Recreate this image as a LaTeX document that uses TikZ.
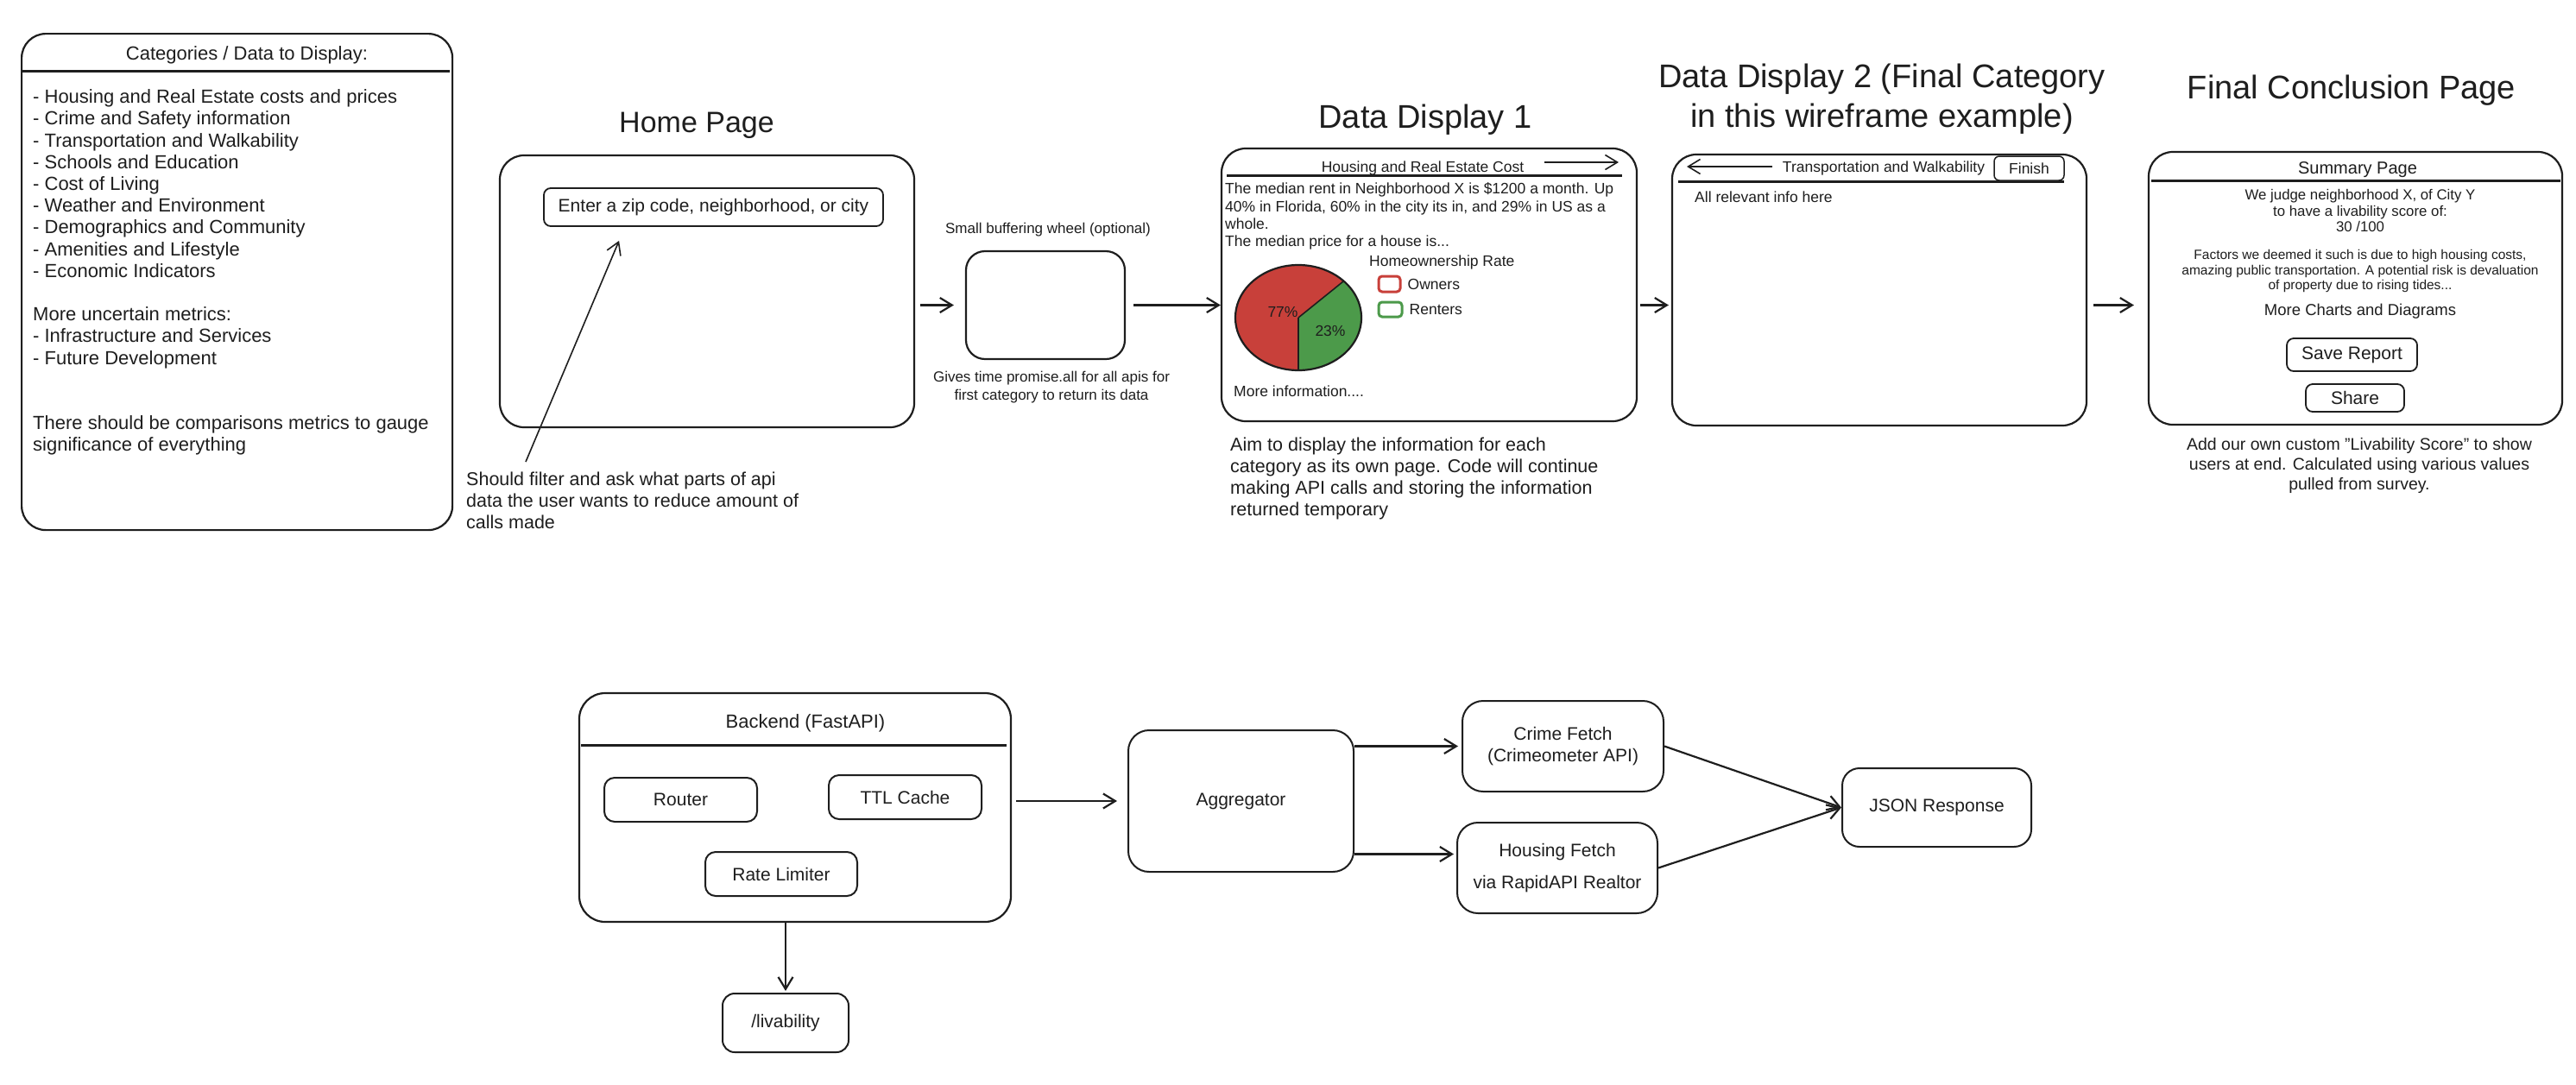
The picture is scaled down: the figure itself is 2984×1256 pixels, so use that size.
\documentclass[tikz,border=0pt]{standalone}
\usepackage{fontspec}
\setmainfont{Liberation Sans}
\usepackage{tikz}
\usetikzlibrary{arrows.meta, positioning}
\definecolor{ink}{HTML}{1E1E1E}
\definecolor{ownred}{HTML}{C8403A}
\definecolor{rentgreen}{HTML}{4C9A4A}

\begin{document}
\begin{tikzpicture}[
  x=1pt, y=-1pt,
  >={Straight Barb[length=14pt, width=17pt]},
  every node/.style={text=ink},
  page/.style={draw=ink, line width=2.2pt, rounded corners=28pt, inner sep=0pt},
  field/.style={draw=ink, line width=1.8pt, rounded corners=8pt, inner sep=0pt},
  svc/.style={draw=ink, line width=2pt, rounded corners=16pt, inner sep=0pt,
    align=center, font=\fontsize{21}{25}\selectfont},
  hdrline/.style={draw=ink, line width=3pt},
  link/.style={draw=ink, line width=2.2pt, ->},
  heading/.style={inner sep=0pt, anchor=base, align=center, font=\fontsize{38}{46}\selectfont},
  para/.style={inner sep=0pt, anchor=north west, align=left},
  smalltxt/.style={font=\fontsize{17.5}{20.4}\selectfont},
]
\path[use as bounding box, fill=white] (0,0) rectangle (2984,1256);

% --- Categories panel ---
\node[page, minimum width=499pt, minimum height=575pt, anchor=north west] (CATS) at (24,38) {};
\node[anchor=base, inner sep=0pt, font=\fontsize{22}{26}\selectfont] (CATShead) at (286,69) {Categories / Data to Display:};
\draw[hdrline] (26,82) -- (521,82);
\node[para, font=\fontsize{22}{25.2}\selectfont] (CATSlist) at (38,103.5) {- Housing and Real Estate costs and prices\\
  - Crime and Safety information\\
  - Transportation and Walkability\\
  - Schools and Education\\
  - Cost of Living\\
  - Weather and Environment\\
  - Demographics and Community\\
  - Amenities and Lifestyle\\
  - Economic Indicators\\[25.2pt]
  More uncertain metrics:\\
  - Infrastructure and Services\\
  - Future Development\\[50.4pt]
  There should be comparisons metrics to gauge\\
  significance of everything};

% --- Home page ---
\node[heading, font=\fontsize{34}{40}\selectfont] (HOMEtitle) at (807,153) {Home Page};
\node[page, minimum width=480pt, minimum height=315pt] (HOME) at (819,337.5) {};
\node[field, minimum width=393pt, minimum height=44pt, font=\fontsize{21}{25}\selectfont] (INPUT) at (826.5,240) {Enter a zip code, neighborhood, or city};
\node[para, font=\fontsize{21.5}{25}\selectfont] (FILTER) at (540,547) {Should filter and ask what parts of api\\ data the user wants to reduce amount of\\ calls made};
\coordinate (FILTERtail) at (609,535);
\draw[link, line width=1.6pt] (FILTERtail) -- ([xshift=88pt, yshift=-16pt]INPUT.south west);

% --- Buffering wheel ---
\node[page, rounded corners=22pt, minimum width=184pt, minimum height=125pt] (BUF) at (1211,353.5) {};
\node[anchor=base, inner sep=0pt, font=\fontsize{17}{21}\selectfont] (BUFlabel) at (1214,270) {Small buffering wheel (optional)};
\node[inner sep=0pt, anchor=north, align=center, font=\fontsize{17}{21}\selectfont] (BUFnote) at (1218,430) {Gives time promise.all for all apis for\\ first category to return its data};

% --- Data display 1 ---
\node[heading] (DD1title) at (1651,148) {Data Display 1};
\node[page, minimum width=481pt, minimum height=316pt] (DD1) at (1655.5,330) {};
\node[anchor=base, inner sep=0pt, smalltxt] (DD1head) at (1648,199) {Housing and Real Estate Cost};
\coordinate (NEXTa) at (1789,188);
\coordinate (NEXTb) at (1875,188);
\draw[ink, line width=1.6pt, ->] (NEXTa) -- (NEXTb);
\draw[hdrline] (1421,203) -- (1879,203);
\node[para, smalltxt] (DD1body) at (1419,211.5) {The median rent in Neighborhood X is \$1200 a month. Up\\ 40\% in Florida, 60\% in the city its in, and 29\% in US as a\\ whole.\\ The median price for a house is...};
\node[anchor=base west, inner sep=0pt, smalltxt] (RATE) at (1586,308) {Homeownership Rate};
\node[draw=ownred, line width=3pt, rounded corners=4pt, minimum width=25pt, minimum height=18pt, inner sep=0pt] (KEYown) at (1609.5,329) {};
\node[right=7pt of KEYown, inner sep=0pt, smalltxt] (OWN) {Owners};
\node[draw=rentgreen, line width=3pt, rounded corners=4pt, minimum width=27pt, minimum height=17pt, inner sep=0pt] (KEYrent) at (1610.5,358.5) {};
\node[right=7pt of KEYrent, inner sep=0pt, smalltxt] (RENT) {Renters};

% pie chart
\coordinate (PIE) at (1504,368);
\fill[ownred] (PIE) -- ++(44:73pt and 61pt) arc[start angle=44, end angle=270, x radius=73pt, y radius=61pt] -- cycle;
\fill[rentgreen] (PIE) -- ++(-90:73pt and 61pt) arc[start angle=-90, end angle=44, x radius=73pt, y radius=61pt] -- cycle;
\draw[ink, line width=2.2pt] (PIE) ellipse[x radius=73pt, y radius=61pt];
\draw[ink, line width=1.6pt] (PIE) -- ++(44:73pt and 61pt) (PIE) -- ++(-90:73pt and 61pt);
\node[inner sep=0pt, smalltxt] (PCTown) at (1486,361) {77\%};
\node[inner sep=0pt, smalltxt] (PCTrent) at (1541,383) {23\%};
\node[anchor=base west, inner sep=0pt, smalltxt] (MORE) at (1429,459) {More information....};
\node[para, font=\fontsize{21.5}{25}\selectfont] (DD1note) at (1425,507) {Aim to display the information for each\\ category as its own page. Code will continue\\ making API calls and storing the information\\ returned temporary};

% --- Data display 2 ---
\node[heading, anchor=north] (DD2title) at (2180,74) {Data Display 2 (Final Category\\ in this wireframe example)};
\node[page, minimum width=480pt, minimum height=314pt] (DD2) at (2177,336) {};
\coordinate (BACKa) at (2053,193);
\coordinate (BACKb) at (1954,193);
\draw[ink, line width=1.6pt, ->] (BACKa) -- (BACKb);
\node[anchor=base, inner sep=0pt, smalltxt] (DD2head) at (2182,199.5) {Transportation and Walkability};
\node[field, line width=1.5pt, rounded corners=6pt, minimum width=81pt, minimum height=28pt, smalltxt] (FINISH) at (2350.5,195) {Finish};
\draw[hdrline] (1944,210) -- (2391,210);
\node[anchor=base west, inner sep=0pt, smalltxt] (DD2body) at (1963,234.5) {All relevant info here};

% --- Final conclusion page ---
\node[heading] (FINtitle) at (2724,114) {Final Conclusion Page};
\node[page, minimum width=479pt, minimum height=316pt] (FIN) at (2728.5,334) {};
\node[anchor=base, inner sep=0pt, font=\fontsize{20}{23}\selectfont] (FINhead) at (2731,201) {Summary Page};
\draw[hdrline] (2492,209) -- (2966,209);
\node[inner sep=0pt, anchor=north, align=center, font=\fontsize{16.8}{18.5}\selectfont] (SCORE) at (2734,219.5) {We judge neighborhood X, of City Y\\ to have a livability score of:\\ 30 /100};
\node[inner sep=0pt, anchor=north, align=center, font=\fontsize{15.5}{17.5}\selectfont] (FACTORS) at (2734,289.5) {Factors we deemed it such is due to high housing costs,\\ amazing public transportation. A potential risk is devaluation\\ of property due to rising tides...};
\node[anchor=base, inner sep=0pt, font=\fontsize{18.5}{22}\selectfont] (CHARTS) at (2734,365.5) {More Charts and Diagrams};
\node[field, minimum width=151pt, minimum height=38pt, font=\fontsize{21}{25}\selectfont] (SAVE) at (2724.5,411) {Save Report};
\node[field, minimum width=114pt, minimum height=32pt, font=\fontsize{21}{25}\selectfont] (SHARE) at (2728,461) {Share};
\node[inner sep=0pt, anchor=north, align=center, font=\fontsize{19.5}{23}\selectfont] (FINnote) at (2733,507.6) {Add our own custom "Livability Score" to show\\ users at end. Calculated using various values\\ pulled from survey.};

% --- Page flow arrows ---
\draw[link, shorten <=6pt, shorten >=13pt] (HOME.east |- BUF.west) -- (BUF.west);
\draw[link, shorten <=9pt] (BUF.east) -- (BUF.east -| DD1.west);
\draw[link, shorten <=3pt, shorten >=3pt] (DD1.east |- BUF.east) -- (DD2.west |- BUF.east);
\draw[link, shorten <=7pt, shorten >=16pt] (DD2.east |- BUF.east) -- (FIN.west |- BUF.east);

% --- Backend ---
\node[page, rounded corners=30pt, minimum width=500pt, minimum height=265pt] (BACK) at (921,935.5) {};
\node[anchor=base, inner sep=0pt, font=\fontsize{22}{26}\selectfont] (BACKhead) at (933,843) {Backend (FastAPI)};
\draw[hdrline] (673,863) -- (1166,863);
\node[svc, rounded corners=12pt, minimum width=177pt, minimum height=51pt] (ROUTER) at (788.5,926.5) {Router};
\node[svc, rounded corners=12pt, minimum width=177pt, minimum height=51pt] (CACHE) at (1048.5,923.5) {TTL Cache};
\node[svc, rounded corners=12pt, minimum width=176pt, minimum height=51pt] (LIMIT) at (905,1012.5) {Rate Limiter};
\node[svc, rounded corners=14pt, minimum width=146pt, minimum height=68pt] (LIV) at (910,1185) {/livability};
\node[svc, rounded corners=24pt, minimum width=261pt, minimum height=164pt] (AGG) at (1437.5,928) {Aggregator};
\node[svc, rounded corners=24pt, minimum width=233pt, minimum height=105pt] (CRIME) at (1810.5,864.5) {Crime Fetch\\ (Crimeometer API)};
\node[svc, rounded corners=24pt, minimum width=232pt, minimum height=105pt] (HOUSE) at (1804,1005.5) {Housing Fetch\\[12pt] via RapidAPI Realtor};
\node[svc, rounded corners=20pt, minimum width=219pt, minimum height=91pt] (JSON) at (2243.5,935.5) {JSON Response};
\coordinate (HOUSEin) at ([yshift=16pt]HOUSE.west);

% --- Backend arrows ---
\draw[link, shorten >=2pt] (LIV.north |- BACK.south) -- (LIV.north);
\draw[link, shorten <=5pt, shorten >=12pt] (BACK.east |- AGG.west) -- (AGG.west);
\draw[link, shorten >=4pt] (AGG.east |- CRIME.west) -- (CRIME.west);
\draw[link, shorten >=3pt] (AGG.east |- HOUSEin) -- (HOUSEin);
\draw[link] (CRIME.east) -- (JSON.west);
\draw[link] (HOUSE.east) -- (JSON.west);

\end{tikzpicture}
\end{document}
